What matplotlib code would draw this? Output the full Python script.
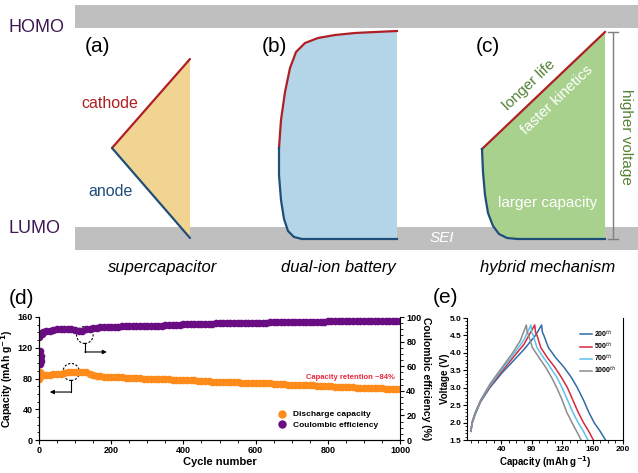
import numpy as np
import matplotlib
matplotlib.use("Agg")
import matplotlib.pyplot as plt
from matplotlib.patches import Polygon, Rectangle, Ellipse

plt.rcParams['font.family'] = ['Liberation Sans', 'DejaVu Sans']

# ---------------------------
# data
# ---------------------------

# schematic outlines (a)-(c), picture pixel units (x right, y down)
sc_cathode_x = [112, 190]
sc_cathode_y = [148, 59]
sc_anode_x = [112, 190]
sc_anode_y = [148, 238]

dib_cathode_x = [279, 281, 285, 290, 296, 305, 318, 335, 355, 375, 397]
dib_cathode_y = [148, 120, 92, 68, 52, 43, 38, 35, 33, 32, 31]
dib_anode_x = [279, 279, 281, 284, 288, 294, 302, 397]
dib_anode_y = [148, 175, 200, 219, 231, 237, 239, 239]

hyb_cathode_x = [482, 605]
hyb_cathode_y = [149, 32]
hyb_anode_x = [482, 483, 485, 488, 493, 499, 507, 518, 605]
hyb_anode_y = [149, 172, 195, 213, 226, 234, 238, 239, 239]

# (d) long cycling
cycles = np.concatenate([np.arange(1, 9), np.arange(10, 1001, 10)])
discharge_cap = [80, 88, 87, 86, 86, 85, 85, 85,
                 85, 85, 85, 85.5, 85.5, 86, 87, 88, 88, 88,
                 88, 88.5, 88, 86, 84, 83.5, 83, 82.5, 82.5, 82,
                 82, 81.5, 81.5, 81, 81, 81, 80.5, 80.5, 80, 80,
                 80, 79.5, 79.5, 79.5, 79, 79, 78.5, 78.5, 78, 78,
                 78, 77.5, 78, 77, 77, 76.5, 76.5, 76, 76, 75.5,
                 75.5, 75.5, 75, 75, 75, 74.5, 74.5, 74.5, 74, 74,
                 74, 73.5, 73.5, 73.5, 73, 73, 72.5, 72.5, 72, 72,
                 72, 71.5, 71.5, 71, 71, 71, 70.5, 70.5, 70, 70,
                 70, 69.5, 69.5, 69.5, 69, 68.5, 68.5, 68, 68, 68,
                 67.5, 67.5, 67, 67, 67, 66.5, 66.5, 66, 66, 66]
coulombic_eff = [84, 62, 66, 72, 68, 64, 86, 87,
                 87.5, 88.5, 89, 89.5, 90, 90, 90, 90, 90, 89.5,
                 88.5, 89, 90, 90.5, 91, 91, 91.5, 91.5, 92, 92,
                 92, 92, 92.5, 92.5, 92.5, 92.5, 93, 93, 93, 93,
                 93, 93, 93, 93, 93.5, 93.5, 93.5, 93.5, 93.5, 94,
                 94, 94, 94, 94, 94.5, 94.5, 94.5, 94.5, 95, 95,
                 95, 95, 95, 95, 95, 95.5, 95.5, 95.5, 95.5, 95.5,
                 95.5, 95.5, 95.5, 96, 96, 96, 96, 96, 96, 96,
                 96, 96, 96, 96, 96, 96, 96, 96, 96, 96.5,
                 96.5, 96.5, 96.5, 96.5, 96.5, 96.5, 96.5, 96.5, 96.5, 96.5,
                 96.5, 96.5, 96.5, 96.5, 96.5, 96.5, 96.5, 96.5, 96.5, 96.5]

# (e) charge/discharge profiles
gcd_labels = ['200$^{th}$', '500$^{th}$', '700$^{th}$', '1000$^{th}$']
gcd_colors = ['#2F6CA8', '#D42A3C', '#5CC3EA', '#8C8C8C']
charge_cap = [
    [0, 2, 6, 13, 25, 40, 55, 70, 85, 93],
    [0, 2, 6, 13, 25, 40, 55, 70, 84],
    [0, 2, 6, 13, 25, 40, 55, 70, 79],
    [0, 2, 6, 13, 25, 40, 55, 65, 73],
]
charge_v = [
    [1.75, 2.0, 2.25, 2.6, 3.0, 3.4, 3.75, 4.1, 4.5, 4.8],
    [1.75, 2.0, 2.27, 2.62, 3.03, 3.45, 3.85, 4.25, 4.8],
    [1.75, 2.02, 2.28, 2.63, 3.06, 3.5, 3.92, 4.38, 4.8],
    [1.75, 2.05, 2.3, 2.65, 3.1, 3.55, 4.0, 4.35, 4.8],
]
discharge_cap_e = [
    [93, 94, 96, 102, 112, 122, 132, 140, 148, 155, 162, 170, 177],
    [84, 85, 87, 92, 101, 110, 119, 127, 134, 141, 148, 155, 161],
    [79, 80, 82, 87, 96, 104, 113, 120, 127, 134, 141, 148, 154],
    [73, 74, 76, 81, 90, 98, 106, 113, 120, 126, 133, 139, 145],
]
discharge_v = [4.8, 4.6, 4.5, 4.15, 3.85, 3.6, 3.3, 3.0, 2.65, 2.3, 2.0, 1.75, 1.5]

# colours
red = '#B01F24'
blue = '#1F4E79'
dgreen = '#548235'
purple_txt = '#3F1752'
band = '#BFBFBF'

fig = plt.figure(figsize=(6.38, 4.73), dpi=100)

# ---------------------------
# (d) cycling
# ---------------------------
ax_d = fig.add_axes([39 / 638, 33 / 473, 361 / 638, 123 / 473])
ax_d.set_facecolor('none')
ax_d.plot(cycles, discharge_cap, 'o', color='#FF8C1A', markersize=5.5,
          markeredgewidth=0, label='Discharge capacity')
ax_d.set_xlim(0, 1000)
ax_d.set_ylim(0, 160)
ax_d.set_xticks([0, 200, 400, 600, 800, 1000])
ax_d.set_yticks([0, 40, 80, 120, 160])
ax_d.set_xlabel('Cycle number', fontsize=8, fontweight='bold', labelpad=1)
ax_d.set_ylabel('Capacity (mAh g$^{\\mathbf{-1}}$)', fontsize=7.5, fontweight='bold', labelpad=2)
ax_d.spines['top'].set_visible(False)
ax_d.spines['right'].set_visible(False)

ax_d2 = ax_d.twinx()
ax_d2.plot(cycles, coulombic_eff, 'o', color='#6A0D83', markersize=5.5,
           markeredgewidth=0, label='Coulombic efficiency')
ax_d2.set_ylim(0, 100)
ax_d2.set_yticks([0, 20, 40, 60, 80, 100])
ax_d2.set_ylabel('Coulombic efficiency (%)', fontsize=7.5, fontweight='bold',
                 rotation=270, labelpad=7)
ax_d2.spines['top'].set_visible(False)

for a in (ax_d, ax_d2):
    a.tick_params(direction='out', length=3, width=0.8, labelsize=6.5, pad=1.5)
    a.minorticks_on()
    a.tick_params(which='minor', length=1.8, width=0.6)
    for lab in a.get_xticklabels() + a.get_yticklabels():
        lab.set_fontweight('bold')
ax_d2.tick_params(axis='x', which='both', bottom=False)

# dashed circles with arrows
ax_d.add_patch(Ellipse((89, 88.5), 46, 22, fill=False, ls=(0, (2, 1.5)), lw=0.8, color='k'))
ax_d.plot([89, 89], [77.5, 62.4], color='k', lw=0.8)
ax_d.annotate('', xy=(30, 62.4), xytext=(89, 62.4),
              arrowprops=dict(arrowstyle='-|>', color='k', lw=0.8, mutation_scale=6,
                              shrinkA=0, shrinkB=0))
ax_d.add_patch(Ellipse((127, 136.6), 46, 22, fill=False, ls=(0, (2, 1.5)), lw=0.8, color='k'))
ax_d.plot([127, 127], [125.6, 114.5], color='k', lw=0.8)
ax_d.annotate('', xy=(188, 114.5), xytext=(127, 114.5),
              arrowprops=dict(arrowstyle='-|>', color='k', lw=0.8, mutation_scale=6,
                              shrinkA=0, shrinkB=0))

ax_d.text(0.985, 0.51, 'Capacity retention ~84%', transform=ax_d.transAxes,
          ha='right', va='center', fontsize=5.5, fontweight='bold', color='#E8283C')

h1, l1 = ax_d.get_legend_handles_labels()
h2, l2 = ax_d2.get_legend_handles_labels()
ax_d2.legend(h1 + h2, l1 + l2, loc='lower left', bbox_to_anchor=(0.63, 0.03),
             frameon=False, handletextpad=0.3, markerscale=1.1,
             prop={'size': 6, 'weight': 'bold'}, labelspacing=0.3)

# ---------------------------
# (e) charge/discharge
# ---------------------------
ax_e = fig.add_axes([467 / 638, 33 / 473, 156 / 638, 122 / 473])
ax_e.set_facecolor('none')
for i in range(4):
    ax_e.plot(charge_cap[i] + discharge_cap_e[i], charge_v[i] + discharge_v,
              color=gcd_colors[i], lw=1.1, label=gcd_labels[i])
ax_e.set_xlim(-5, 200)
ax_e.set_ylim(1.5, 5.0)
ax_e.set_xticks([40, 80, 120, 160, 200])
ax_e.set_yticks(np.arange(1.5, 5.01, 0.5))
ax_e.yaxis.set_major_formatter(matplotlib.ticker.FormatStrFormatter('%.1f'))
ax_e.set_xlabel('Capacity (mAh g$^{\\mathbf{-1}}$)', fontsize=7, fontweight='bold', labelpad=1)
ax_e.set_ylabel('Voltage (V)', fontsize=7, fontweight='bold', labelpad=0)
ax_e.spines['top'].set_visible(False)
ax_e.tick_params(direction='out', length=3, width=0.8, labelsize=6, pad=1, right=False)
ax_e.minorticks_on()
ax_e.tick_params(which='minor', length=1.8, width=0.6, right=False)
for lab in ax_e.get_xticklabels() + ax_e.get_yticklabels():
    lab.set_fontweight('bold')
ax_e.legend(loc='upper right', bbox_to_anchor=(1.0, 0.97), frameon=False,
            handlelength=1.8, handletextpad=0.3, labelspacing=0.15,
            prop={'size': 5, 'weight': 'bold'})

# ---------------------------
# schematic (a)-(c), in pixel units
# ---------------------------
ax0 = fig.add_axes([0, 0, 1, 1])
ax0.set_xlim(0, 638)
ax0.set_ylim(473, 0)
ax0.axis('off')
ax0.patch.set_alpha(0)

ax0.add_patch(Rectangle((75, 5), 563, 23, color=band, lw=0))
ax0.add_patch(Rectangle((75, 227), 563, 23, color=band, lw=0))
ax0.text(37, 27, 'HOMO', fontsize=13, color=purple_txt, ha='center', va='center')
ax0.text(34, 228, 'LUMO', fontsize=13, color=purple_txt, ha='center', va='center')

# (a) supercapacitor
tri = list(zip(sc_cathode_x[::-1], sc_cathode_y[::-1])) + list(zip(sc_anode_x, sc_anode_y))[1:]
ax0.add_patch(Polygon(tri, closed=True, color='#F2D492', lw=0))
ax0.plot(sc_cathode_x, sc_cathode_y, color=red, lw=1.6, solid_capstyle='round')
ax0.plot(sc_anode_x, sc_anode_y, color=blue, lw=1.6, solid_capstyle='round')
ax0.text(98, 47, '(a)', fontsize=15, ha='center', va='center')
ax0.text(110, 103, 'cathode', fontsize=11.5, color=red, ha='center', va='center')
ax0.text(111, 191, 'anode', fontsize=11.5, color=blue, ha='center', va='center')
ax0.text(163, 267, 'supercapacitor', fontsize=12, style='italic', ha='center', va='center')

# (b) dual-ion battery
poly_b = list(zip(dib_cathode_x[::-1], dib_cathode_y[::-1])) + list(zip(dib_anode_x, dib_anode_y))[1:]
ax0.add_patch(Polygon(poly_b, closed=True, color='#B4D5E8', lw=0))
ax0.plot(dib_cathode_x, dib_cathode_y, color=red, lw=1.6)
ax0.plot(dib_anode_x, dib_anode_y, color=blue, lw=1.6)
ax0.text(274, 47, '(b)', fontsize=15, ha='center', va='center')
ax0.text(338, 267, 'dual-ion battery', fontsize=12, style='italic', ha='center', va='center')

# (c) hybrid mechanism
poly_c = list(zip(hyb_cathode_x[::-1], hyb_cathode_y[::-1])) + list(zip(hyb_anode_x, hyb_anode_y))[1:]
ax0.add_patch(Polygon(poly_c, closed=True, color='#A9D18E', lw=0))
ax0.plot(hyb_cathode_x, hyb_cathode_y, color=red, lw=1.6)
ax0.plot(hyb_anode_x, hyb_anode_y, color=blue, lw=1.6)
ax0.text(488, 47, '(c)', fontsize=15, ha='center', va='center')
ax0.text(529, 85, 'longer life', fontsize=11, color=dgreen, rotation=43.6,
         ha='center', va='center', rotation_mode='anchor')
ax0.text(557, 100, 'faster kinetics', fontsize=11, color='white', rotation=43.6,
         ha='center', va='center', rotation_mode='anchor')
ax0.text(548, 203, 'larger capacity', fontsize=11, color='white', ha='center', va='center')
ax0.text(442, 238, 'SEI', fontsize=11, color='white', style='italic', ha='center', va='center')
ax0.plot([613, 613], [32, 239], color='#7F7F7F', lw=1)
ax0.plot([608, 618], [32, 32], color='#7F7F7F', lw=1)
ax0.plot([608, 618], [239, 239], color='#7F7F7F', lw=1)
ax0.text(626, 137, 'higher voltage', fontsize=11, color=dgreen, rotation=-90,
         ha='center', va='center')
ax0.text(548, 267, 'hybrid mechanism', fontsize=12, style='italic', ha='center', va='center')

# panel labels for the plots
ax0.text(22, 298, '(d)', fontsize=15, ha='center', va='center')
ax0.text(445, 297, '(e)', fontsize=15, ha='center', va='center')

fig.savefig('out.png', dpi=100)
